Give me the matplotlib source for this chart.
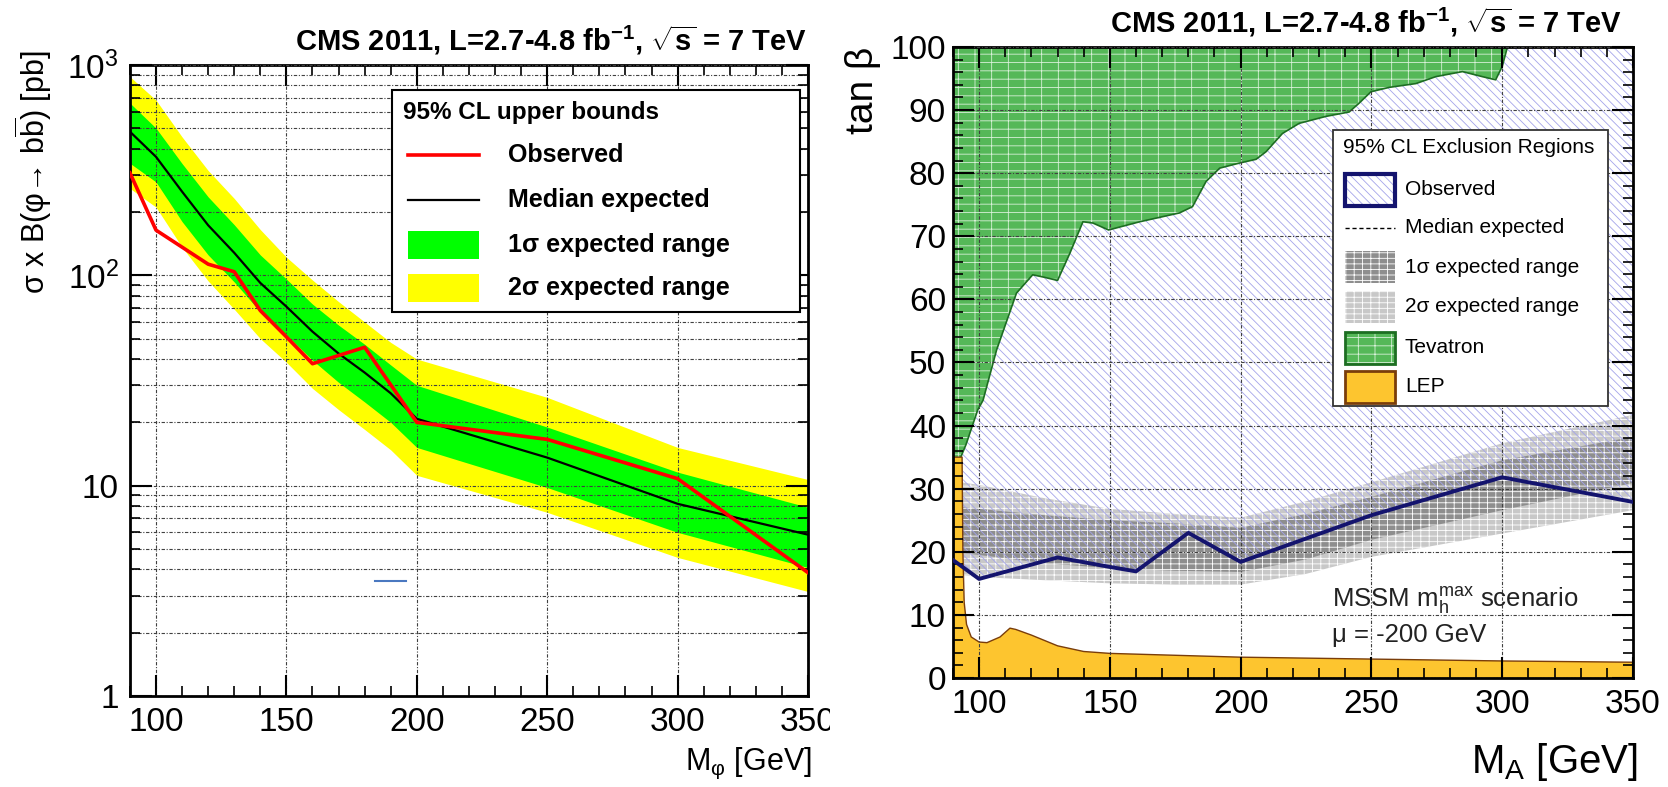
import matplotlib
matplotlib.use("Agg")
import matplotlib.pyplot as plt
from matplotlib.patches import Rectangle
from matplotlib.ticker import MultipleLocator, LogLocator, NullFormatter, FuncFormatter

plt.rcParams['font.family'] = ['Liberation Sans', 'DejaVu Sans']
plt.rcParams['mathtext.fontset'] = 'custom'
plt.rcParams['mathtext.rm'] = 'Liberation Sans'
plt.rcParams['mathtext.it'] = 'Liberation Sans:italic'
plt.rcParams['mathtext.bf'] = 'Liberation Sans:bold'
plt.rcParams['mathtext.sf'] = 'Liberation Sans'
plt.rcParams['mathtext.default'] = 'regular'
plt.rcParams['hatch.linewidth'] = 0.6

# --- cross section limits (left) ---
mass = [90, 100, 110, 120, 130, 140, 150, 160, 170, 180, 190, 200, 250, 300, 350]
xs_median = [482, 366, 250, 173, 128, 92, 71, 54, 42.5, 34.5, 27.5, 20.8, 13.6, 8.2, 5.85]
xs_1s_hi = [659, 501, 340, 236, 174, 125, 96, 73, 58, 47, 37.5, 30, 19, 11.6, 7.9]
xs_1s_lo = [341, 278, 180, 125, 93, 67, 52, 39.5, 31, 25, 20, 15.2, 9.8, 6.0, 4.08]
xs_2s_hi = [880, 681, 455, 315, 232, 165, 122, 95, 75, 60, 48, 40, 26.3, 15.2, 10.7]
xs_2s_lo = [259, 211, 136, 94, 69, 50, 38.6, 29, 23, 18.5, 14.8, 11.2, 7.47, 4.56, 3.14]

mass_obs = [90, 100, 120, 130, 140, 150, 160, 180, 200, 250, 300, 350]
xs_obs = [307, 164, 113, 104, 68, 51, 38, 45.5, 20, 16.6, 10.8, 3.86]

stray_x = [184, 196]
stray_y = [3.53, 3.53]

# --- tan(beta) exclusion (right) ---
ma_obs = [90, 100, 130, 150, 160, 180, 200, 250, 300, 350]
tb_obs = [18.7, 15.7, 19.1, 17.6, 16.9, 23.0, 18.4, 25.8, 31.8, 27.9]

ma_band = [90, 100, 125, 150, 175, 200, 225, 250, 300, 350]
tb_2s_lo = [16.5, 16.0, 15.5, 15.0, 14.8, 14.8, 16.5, 19.2, 22.9, 26.6]
tb_1s_lo = [20.0, 19.5, 18.2, 17.4, 17.0, 16.8, 18.8, 21.9, 26.6, 30.9]
tb_1s_hi = [27.2, 26.8, 25.8, 25.0, 24.5, 23.8, 26.0, 28.7, 34.5, 38.2]
tb_2s_hi = [31.2, 30.6, 28.5, 26.8, 26.0, 25.4, 28.0, 31.0, 37.2, 41.7]

ma_tev = [90, 95, 99.5, 101.5, 106.7, 114.3, 120.5, 125, 130, 134.7, 139.7, 143.5,
          149.5, 161.4, 176.6, 181.6, 186.8, 192, 199.5, 205.9, 209.7, 216, 222.4,
          232.6, 241.5, 245.3, 249.8, 256.8, 267, 274.6, 284.8, 292.4, 297.5, 300, 302]
tb_tev = [32, 37, 42.5, 44, 52, 61, 63.9, 63.5, 63, 67.3, 72.3, 72.1,
          71, 72.3, 73.7, 74.7, 78.7, 80.8, 81.6, 82.2, 83.4, 86.3, 87.9,
          89, 89.7, 91.1, 92.9, 93.6, 94.2, 95.3, 96.1, 95.3, 94.8, 96.9, 100]

ma_lep = [90, 93.5, 93.8, 94.3, 95.2, 97, 100, 103, 108, 111.8, 114, 120, 130,
          140, 150, 200, 250, 300, 350]
tb_lep = [35, 35, 20, 12, 8.5, 6.5, 5.7, 5.6, 6.5, 7.9, 7.7, 6.8, 5.1,
          4.2, 3.9, 3.3, 3.0, 2.7, 2.5]

title = r'CMS 2011, L=2.7-4.8 fb$^{\mathbf{-1}}$, $\sqrt{\mathbf{s}}$ = 7 TeV'

hatch_blue = '#a4a4ea'
green_tev = '#55b858'

fig = plt.figure(figsize=(16.68, 7.87), dpi=100)
ax1 = fig.add_axes([0.0779, 0.1156, 0.4065, 0.8018])
ax2 = fig.add_axes([0.5713, 0.1385, 0.4077, 0.8018])

gridstyle = dict(color='0.25', lw=0.8, ls=(0, (3, 1.5, 1, 1.5)))


def root_frame(ax):
    ax.set_axisbelow(False)
    for sp in ax.spines.values():
        sp.set_linewidth(2)
    ax.tick_params(which='major', direction='in', length=15, width=1.5,
                   top=True, right=True, labelsize=24, pad=8)
    ax.tick_params(which='minor', direction='in', length=7, width=1.2,
                   top=True, right=True)


# left panel
ax1.fill_between(mass, xs_2s_lo, xs_2s_hi, color='#ffff00', lw=0, zorder=1)
ax1.fill_between(mass, xs_1s_lo, xs_1s_hi, color='#00ff00', lw=0, zorder=1.5)
ax1.plot(mass, xs_median, color='black', lw=1.6, zorder=4)
ax1.plot(mass_obs, xs_obs, color='#ff0000', lw=2.6, zorder=5)
ax1.plot(stray_x, stray_y, color='#4a78c0', lw=1.5, zorder=5)

ax1.set_yscale('log')
ax1.set_xlim(90, 350)
ax1.set_ylim(1, 1000)
ax1.xaxis.set_major_locator(MultipleLocator(50))
ax1.xaxis.set_minor_locator(MultipleLocator(10))
ax1.yaxis.set_major_locator(LogLocator(base=10))
ax1.yaxis.set_minor_locator(LogLocator(base=10, subs=range(2, 10)))
ax1.yaxis.set_minor_formatter(NullFormatter())
ax1.yaxis.set_major_formatter(FuncFormatter(
    lambda v, p: {1: '1', 10: '10', 100: r'$10^{2}$', 1000: r'$10^{3}$'}.get(int(round(v)), '')))
root_frame(ax1)
ax1.tick_params(axis='y', which='major', length=16)
ax1.grid(which='both', axis='y', **gridstyle)
ax1.grid(which='major', axis='x', **gridstyle)

# left legend
ax1.add_patch(Rectangle((0.3864, 0.6086), 0.6018, 0.3518, transform=ax1.transAxes,
                        facecolor='white', edgecolor='black', lw=1.5, zorder=10))
ax1.text(0.4027, 0.9255, '95% CL upper bounds', transform=ax1.transAxes,
         fontsize=17.5, weight='bold', va='center', zorder=11)
rows1 = [0.8574, 0.786, 0.7147, 0.6466]
labels1 = ['Observed', 'Median expected', '1σ expected range', '2σ expected range']
ax1.plot([0.410, 0.5147], [rows1[0]] * 2, transform=ax1.transAxes, color='#ff0000', lw=2.6, zorder=11)
ax1.plot([0.410, 0.5147], [rows1[1]] * 2, transform=ax1.transAxes, color='black', lw=1.6, zorder=11)
for yy, c in zip(rows1[2:], ['#00ff00', '#ffff00']):
    ax1.add_patch(Rectangle((0.410, yy - 0.0222), 0.1047, 0.0444, transform=ax1.transAxes,
                            facecolor=c, lw=0, zorder=11))
for yy, lab in zip(rows1, labels1):
    ax1.text(0.5575, yy, lab, transform=ax1.transAxes, fontsize=18, weight='bold',
             va='center', zorder=11)

# right panel
ax2.fill_between(ma_band, tb_2s_lo, tb_2s_hi, facecolor='#c8c8c8', edgecolor='white',
                 hatch='---||', lw=0, zorder=1)
ax2.fill_between(ma_band, tb_1s_lo, tb_1s_hi, facecolor='#8e8e8e', edgecolor='white',
                 hatch='---||', lw=0, zorder=1.2)
ax2.fill_between(ma_obs, tb_obs, 100, facecolor='none', edgecolor=hatch_blue,
                 hatch='\\\\\\\\', lw=0, zorder=1.5)
ax2.fill_between(ma_tev, tb_tev, 100, facecolor=green_tev, edgecolor='#d8f0d8',
                 hatch='--|', lw=0, zorder=2)
ax2.plot(ma_tev, tb_tev, color='#1d6e22', lw=1.2, zorder=2.1)
ax2.fill_between(ma_lep, 0, tb_lep, facecolor='#fdc52f', lw=0, zorder=2.2)
ax2.plot(ma_lep, tb_lep, color='#7a3d0a', lw=1.0, zorder=2.3)
ax2.plot(ma_obs, tb_obs, color='#14146e', lw=2.8, zorder=5)

ax2.set_xlim(90, 350)
ax2.set_ylim(0, 100)
ax2.xaxis.set_major_locator(MultipleLocator(50))
ax2.xaxis.set_minor_locator(MultipleLocator(10))
ax2.yaxis.set_major_locator(MultipleLocator(10))
ax2.yaxis.set_minor_locator(MultipleLocator(2))
root_frame(ax2)
ax2.tick_params(axis='y', which='major', pad=5)
ax2.grid(which='major', **gridstyle)

ax2.text(235, 11.3, r'MSSM $m_{h}^{max}$ scenario', fontsize=18.5, color='#222222', zorder=6)
ax2.text(235, 5.7, 'μ = -200 GeV', fontsize=18.5, color='#222222', zorder=6)

# right legend
ax2.add_patch(Rectangle((0.5588, 0.4311), 0.4044, 0.4374, transform=ax2.transAxes,
                        facecolor='white', edgecolor='#333333', lw=1.3, zorder=10))
ax2.text(0.5735, 0.8415, '95% CL Exclusion Regions', transform=ax2.transAxes,
         fontsize=15, va='center', zorder=11)
rows2 = [0.7734, 0.7132, 0.6513, 0.588, 0.523, 0.4612]
labels2 = ['Observed', 'Median expected', '1σ expected range', '2σ expected range',
           'Tevatron', 'LEP']
hx, hw, hh = 0.5765, 0.0735, 0.0507


def legend_box(yy, **kw):
    ax2.add_patch(Rectangle((hx, yy - hh / 2), hw, hh, transform=ax2.transAxes,
                            zorder=11, **kw))


legend_box(rows2[0], facecolor='white', edgecolor=hatch_blue, hatch='\\\\\\\\', lw=0)
legend_box(rows2[0], facecolor='none', edgecolor='#14146e', lw=3)
ax2.plot([hx, hx + hw], [rows2[1]] * 2, transform=ax2.transAxes, color='black',
         lw=1.0, ls=(0, (3, 2)), zorder=11)
legend_box(rows2[2], facecolor='#8e8e8e', edgecolor='white', hatch='---||', lw=0)
legend_box(rows2[3], facecolor='#c8c8c8', edgecolor='white', hatch='---||', lw=0)
legend_box(rows2[4], facecolor=green_tev, edgecolor='#d8f0d8', hatch='--|', lw=0)
legend_box(rows2[4], facecolor='none', edgecolor='#1d6e22', lw=2)
legend_box(rows2[5], facecolor='#fdc52f', edgecolor='#7a3d0a', lw=2)
for yy, lab in zip(rows2, labels2):
    ax2.text(0.6647, yy, lab, transform=ax2.transAxes, fontsize=15, va='center', zorder=11)

# axis titles and headers
fig.text(33 / 1668, 1 - 50 / 787, r'σ x B(φ→ b$\overline{b}$) [pb]', rotation=90,
         ha='center', va='top', fontsize=22)
fig.text(863 / 1668, 1 - 47 / 787, 'tan β', rotation=90, ha='center', va='top', fontsize=28)
fig.text(812 / 1668, 1 - 770 / 787, r'M$_{φ}$ [GeV]', ha='right', va='baseline', fontsize=22)
fig.text(1638 / 1668, 1 - 773 / 787, r'M$_{A}$ [GeV]', ha='right', va='baseline', fontsize=29)
fig.text(807 / 1668, 1 - 40 / 787, title, ha='right', va='center', fontsize=21, weight='bold')
fig.text(1622 / 1668, 1 - 22 / 787, title, ha='right', va='center', fontsize=21, weight='bold')

# the left panel's last tick label is cut off at the panel border
fig.add_artist(Rectangle((830 / 1668, 0.05), 16 / 1668, 0.07, transform=fig.transFigure,
                         facecolor='white', edgecolor='none', zorder=20))

fig.savefig('out.png', dpi=100)
